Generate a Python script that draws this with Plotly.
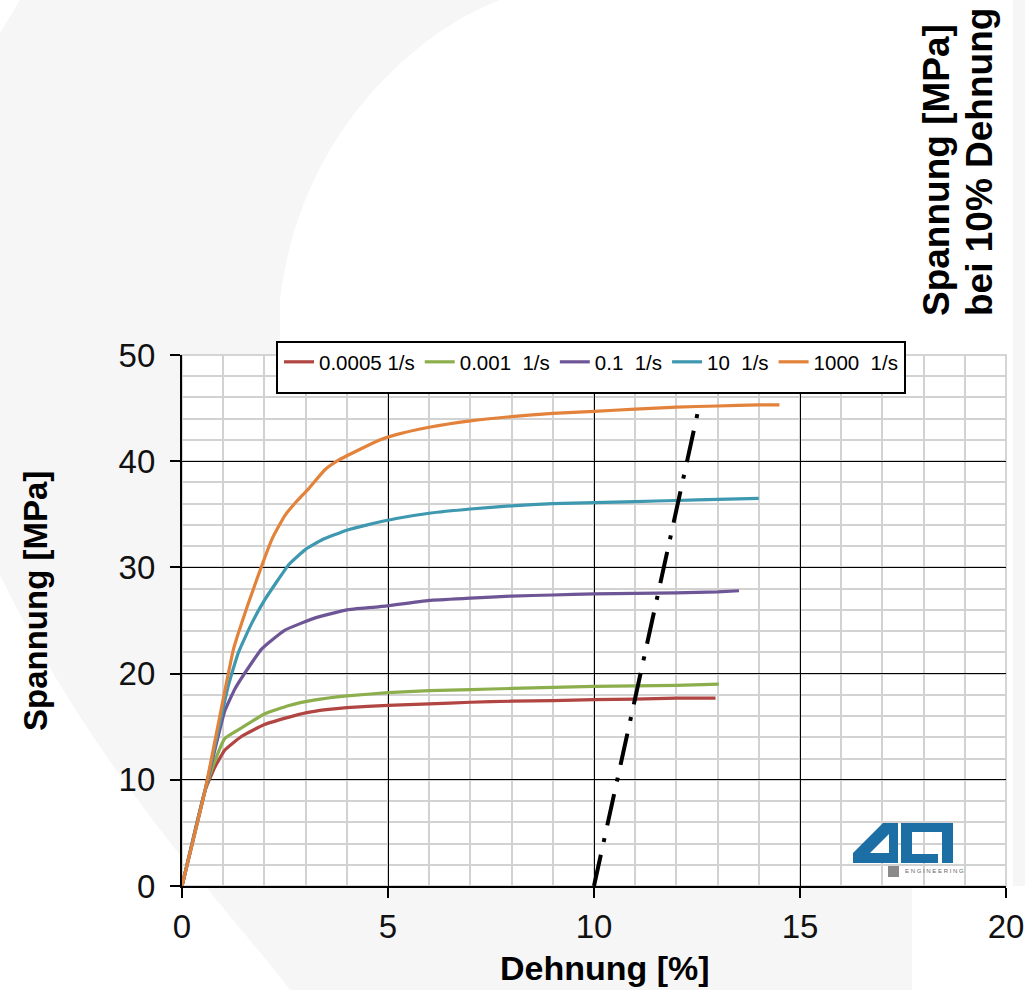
import plotly.graph_objects as go

# ---------------- data ----------------
series_names = ["0.0005\u00a01/s", "0.001\u00a0\u00a01/s", "0.1\u00a0\u00a01/s", "10\u00a0\u00a01/s", "1000\u00a0\u00a01/s"]
series_colors = ["#b04541", "#8cae4c", "#6e5596", "#3d98b0", "#e3823a"]

x_0005 = [0, 0.56, 0.8, 1.04, 1.45, 2.0, 2.6, 3.0, 3.5, 4.0, 5, 6, 7, 8, 9, 10, 11, 12, 12.95]
y_0005 = [0, 9.0, 11.2, 12.8, 14.1, 15.2, 15.9, 16.3, 16.6, 16.8, 17.0, 17.15, 17.3, 17.4, 17.45, 17.55, 17.6, 17.7, 17.7]

x_001 = [0, 0.56, 0.8, 1.04, 1.45, 2.0, 2.6, 3.2, 4.0, 5, 6, 7, 8, 9, 10, 11, 12, 13.03]
y_001 = [0, 9.0, 11.8, 13.9, 14.9, 16.2, 17.0, 17.5, 17.9, 18.2, 18.4, 18.5, 18.6, 18.7, 18.8, 18.85, 18.9, 19.0]

x_01 = [0, 0.56, 0.84, 1.04, 1.29, 1.69, 1.93, 2.26, 2.5, 3.2, 4.0, 4.8, 6, 7, 8, 9, 10, 11, 12, 13, 13.52]
y_01 = [0, 9.0, 13.5, 16.5, 18.6, 21.0, 22.3, 23.4, 24.1, 25.2, 26.0, 26.3, 26.9, 27.1, 27.3, 27.4, 27.5, 27.55, 27.6, 27.7, 27.8]

x_10 = [0, 0.56, 1.12, 1.37, 1.7, 2.0, 2.6, 3.0, 3.4, 4.0, 4.5, 5.2, 6, 7, 8, 9, 10, 11, 12, 13, 14]
y_10 = [0, 9.0, 18.8, 22.0, 24.8, 26.9, 30.3, 31.7, 32.6, 33.5, 34.0, 34.6, 35.1, 35.5, 35.8, 36.0, 36.1, 36.2, 36.3, 36.4, 36.5]

x_1000 = [0, 0.56, 1.25, 1.6, 1.93, 2.2, 2.5, 2.8, 3.07, 3.47, 3.8, 4.36, 4.8, 5.2, 6, 7, 8, 9, 10, 11, 12, 13, 14, 14.5]
y_1000 = [0, 9.0, 22.3, 26.5, 30.1, 32.8, 34.9, 36.3, 37.4, 39.2, 40.1, 41.2, 42.0, 42.5, 43.2, 43.8, 44.2, 44.5, 44.7, 44.9, 45.1, 45.2, 45.3, 45.3]

x_series = [x_0005, x_001, x_01, x_10, x_1000]
y_series = [y_0005, y_001, y_01, y_10, y_1000]

offset_x = [10, 12.53]
offset_y = [0, 44.8]

x_ticks = [0, 5, 10, 15, 20]
y_ticks = [0, 10, 20, 30, 40, 50]

# ---------------- layout geometry (pixels) ----------------
W, H = 1025, 990
L, R, T, B = 182, 1006, 355, 886
PW, PH = R - L, B - T


def px(xp):
    return (xp - L) / PW


def py(yp):
    return (B - yp) / PH


def path(points):
    s = ""
    for i, (a, b) in enumerate(points):
        s += ("M" if i == 0 else "L") + f"{px(a):.5f},{py(b):.5f} "
    return s + "Z"


FONT = "Liberation Sans, Arial, sans-serif"
BG_GREY = "#f6f6f6"

fig = go.Figure()

for xs, ys, name, col in zip(x_series, y_series, series_names, series_colors):
    fig.add_trace(go.Scatter(x=xs, y=ys, mode="lines", name=name,
                             line=dict(color=col, width=3.2, shape="spline", smoothing=0.4)))

fig.add_trace(go.Scatter(x=offset_x, y=offset_y, mode="lines", showlegend=False,
                         line=dict(color="black", width=4, dash="32px,13px,4px,13px")))

shapes = []
# faint watermark crescent in background
crescent = (f"M{px(20):.5f},{py(0):.5f} L{px(500):.5f},{py(0):.5f} "
            f"C{px(420):.5f},{py(30):.5f} {px(300):.5f},{py(130):.5f} {px(280):.5f},{py(300):.5f} "
            f"L{px(280):.5f},{py(886):.5f} L{px(912):.5f},{py(886):.5f} L{px(912):.5f},{py(990):.5f} "
            f"L{px(290):.5f},{py(990):.5f} "
            f"C{px(230):.5f},{py(910):.5f} {px(100):.5f},{py(780):.5f} {px(0):.5f},{py(575):.5f} "
            f"L{px(0):.5f},{py(33):.5f} Z")
shapes.append(dict(type="path", xref="paper", yref="paper", path=crescent,
                   fillcolor=BG_GREY, line=dict(width=0), layer="below"))
shapes.append(dict(type="rect", xref="paper", yref="paper", x0=px(1013), x1=px(1025), y0=py(0), y1=py(886),
                   fillcolor=BG_GREY, line=dict(width=0), layer="below"))
# white plot area with light border
shapes.append(dict(type="rect", xref="paper", yref="paper", x0=0, x1=1, y0=0, y1=1,
                   fillcolor="white", line=dict(color="#c8c8c8", width=1.5), layer="below"))
# legend frame
shapes.append(dict(type="rect", xref="paper", yref="paper", x0=px(277), x1=px(905), y0=py(393), y1=py(342),
                   fillcolor="white", line=dict(color="black", width=2), layer="above"))
# logo
four = path([(853, 863), (853, 853), (883, 823), (898, 823), (898, 863)])
shapes.append(dict(type="path", xref="paper", yref="paper", path=four, fillcolor="#1b6fa5",
                   line=dict(width=0), layer="above"))
shapes.append(dict(type="path", xref="paper", yref="paper",
                   path=path([(870, 853), (889, 834), (889, 853)]), fillcolor="white",
                   line=dict(width=0), layer="above"))
a_glyph = path([(901, 823), (953, 823), (953, 863), (942, 863), (942, 832), (912, 832), (912, 854),
                (938, 854), (938, 863), (901, 863)])
shapes.append(dict(type="path", xref="paper", yref="paper", path=a_glyph, fillcolor="#1b6fa5",
                   line=dict(width=0), layer="above"))
shapes.append(dict(type="rect", xref="paper", yref="paper", x0=px(888), x1=px(899), y0=py(877), y1=py(866),
                   fillcolor="#8a8a8a", line=dict(width=0), layer="above"))

annotations = [
    dict(text="<b>Spannung [MPa]</b>", x=px(35), y=py(601), xref="paper", yref="paper",
         textangle=-90, showarrow=False, font=dict(family=FONT, size=33, color="black"),
         xanchor="center", yanchor="middle"),
    dict(text="<b>Dehnung [%]</b>", x=px(605), y=py(968), xref="paper", yref="paper",
         showarrow=False, font=dict(family=FONT, size=34, color="black"),
         xanchor="center", yanchor="middle"),
    dict(text="<b>Spannung [MPa]</b>", x=px(937), y=py(318), xref="paper", yref="paper",
         textangle=-90, showarrow=False, font=dict(family=FONT, size=37, color="black"),
         xanchor="center", yanchor="bottom"),
    dict(text="<b>bei 10% Dehnung</b>", x=px(980), y=py(318), xref="paper", yref="paper",
         textangle=-90, showarrow=False, font=dict(family=FONT, size=37, color="black"),
         xanchor="center", yanchor="bottom"),
    dict(text="E N G I N E E R I N G", x=px(903), y=py(871), xref="paper", yref="paper",
         showarrow=False, font=dict(family=FONT, size=6, color="#666666"),
         xanchor="left", yanchor="middle"),
]

TICKFONT = dict(family=FONT, size=33, color="#111")

fig.update_layout(
    width=W, height=H,
    margin=dict(l=L, r=W - R, t=T, b=H - B, pad=0, autoexpand=False),
    paper_bgcolor="white", plot_bgcolor="white",
    font=dict(family=FONT, color="black"),
    shapes=shapes, annotations=annotations,
    legend=dict(orientation="h", x=px(279), y=py(362), xanchor="left", yanchor="middle",
                bgcolor="rgba(0,0,0,0)", borderwidth=0,
                font=dict(family=FONT, size=20.5, color="black"),
                itemwidth=30, tracegroupgap=0),
    xaxis=dict(range=[0, 20], tickvals=x_ticks, ticktext=[str(v) for v in x_ticks],
               automargin=False,
               showgrid=True, gridcolor="black", gridwidth=1.2,
               minor=dict(dtick=1, showgrid=True, gridcolor="#d2d2d2", gridwidth=1.5),
               showline=True, linecolor="black", linewidth=2.2,
               ticks="outside", ticklen=10, tickwidth=1.5, tickcolor="black",
               tickfont=TICKFONT, zeroline=False),
    yaxis=dict(range=[0, 50], tickvals=y_ticks, ticktext=[str(v) for v in y_ticks],
               automargin=False,
               showgrid=True, gridcolor="black", gridwidth=1.2,
               minor=dict(dtick=2, showgrid=True, gridcolor="#d2d2d2", gridwidth=1.5),
               showline=True, linecolor="black", linewidth=2.2,
               ticks="outside", ticklen=10, tickwidth=1.5, tickcolor="black",
               tickfont=TICKFONT, zeroline=False, ticklabelstandoff=8),
)

fig.write_html("out.html")
